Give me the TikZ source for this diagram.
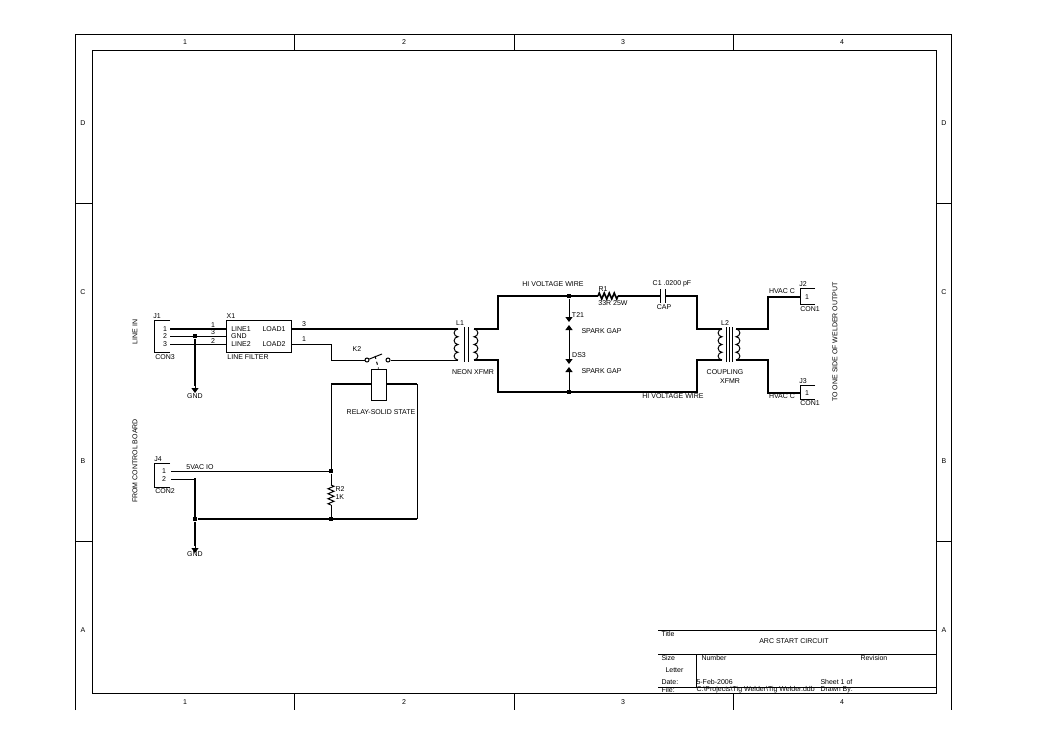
\documentclass[tikz,border=0pt]{standalone}
\usepackage{fontspec}
\setmainfont{Liberation Sans}
\usetikzlibrary{positioning}
\usetikzlibrary{decorations.pathmorphing}
\usetikzlibrary{arrows.meta}
\tikzset{>=stealth}
\tikzset{gaptip/.tip={Triangle[width=7pt,length=5pt]}}

\begin{document}
\begin{tikzpicture}
	[x=1pt,y=-1pt,line width=1pt,
	txt/.style={inner sep=0pt,font=\fontsize{7}{8}\selectfont},
	wire/.style={line width=1pt},
	hv/.style={line width=2.6pt},
	junction/.style={rectangle,fill=black,inner sep=0pt,minimum size=4pt},
	part/.style={draw,fill=white,line width=1pt},
	zig/.style={decorate,decoration={zigzag,segment length=5pt,amplitude=3pt}}]
	\useasboundingbox (0,0) rectangle (1053,745);
	% sheet frame
	\draw (75,710) -- (75,34) -- (951,34) -- (951,710);
	\draw (92,50) rectangle (936,693);
	\foreach \x in {294,514,733} {
		\draw (\x,34) -- (\x,50);
		\draw (\x,693) -- (\x,710);
	}
	\foreach \y in {203,541} {
		\draw (75,\y) -- (92,\y);
		\draw (936,\y) -- (951,\y);
	}
	\foreach \x/\c in {185/1,404/2,623/3,842/4} {
		\node [txt] (top\c) at (\x,42) {\c};
		\node [txt] (bot\c) at (\x,702) {\c};
	}
	\foreach \y/\r in {123/D,292/C,461/B,630/A} {
		\node [txt] (left\r) at (83,\y) {\r};
		\node [txt] (right\r) at (944,\y) {\r};
	}
	% title block
	\draw (658,630) -- (936,630);
	\draw (658,654) -- (936,654);
	\draw (658,687) -- (936,687);
	\draw (696,654) -- (696,687);
	\node [txt,anchor=west] (titlelbl) at (661,634) {Title};
	\node [txt] (titletxt) at (794,641) {ARC START CIRCUIT};
	\node [txt,anchor=west] (sizelbl) at (661,658) {Size};
	\node [txt,anchor=west] (numlbl) at (701,658) {Number};
	\node [txt,anchor=west] (revlbl) at (860,658) {Revision};
	\node [txt,anchor=west] (letter) at (665,670) {Letter};
	\node [txt,anchor=west] (datelbl) at (661,682) {Date:};
	\node [txt,anchor=west] (date) at (696,682) {5-Feb-2006};
	\node [txt,anchor=west] (sheet) at (820,682) {Sheet 1 of};
	\node [txt,anchor=west] (filelbl) at (661,690) {File:};
	\node [txt,anchor=west] (file) at (696,690) {C:\textbackslash Projects\textbackslash Tig Welder\textbackslash Tig Welder.ddb};
	\node [txt,anchor=west] (drawn) at (820,690) {Drawn By:};
	% connectors
	\coordinate (J1a) at (170,329);
	\coordinate (J1b) at (170,336);
	\coordinate (J1c) at (170,344);
	\coordinate (J4a) at (171,471);
	\coordinate (J4b) at (171,479);
	\coordinate (J2a) at (800,297);
	\coordinate (J3a) at (800,393);
	\draw (170,320) -- (154,320) -- (154,352) -- (170,352);
	\draw (170,463) -- (154,463) -- (154,487) -- (170,487);
	\draw (815,288) -- (800,288) -- (800,304) -- (815,304);
	\draw (815,385) -- (800,385) -- (800,399) -- (815,399);
	% line filter
	\node [part,minimum width=65pt,minimum height=32pt,inner sep=0pt] (X1) at (258.5,336) {};
	\coordinate (X1line1) at (226,329);
	\coordinate (X1gnd) at (226,336);
	\coordinate (X1line2) at (226,344);
	\coordinate (X1load1) at (291,329);
	\coordinate (X1load2) at (291,344);
	\draw [hv] (J1a) -- (X1line1);
	\draw [wire] (J1b) -- (X1gnd);
	\draw [wire] (J1c) -- (X1line2);
	\node [junction] (gndjoin) at (195,336) {};
	\coordinate (gnd1) at (195,393);
	\draw [hv] (gndjoin) -- (195,386);
	\draw [wire,-{gaptip}] (195,386) -- (gnd1);
	% transformers
	\coordinate (T1a) at (458,329);
	\coordinate (T1b) at (458,360);
	\coordinate (T1c) at (474,329);
	\coordinate (T1d) at (474,360);
	\coordinate (T2a) at (722,329);
	\coordinate (T2b) at (722,360);
	\coordinate (T2c) at (736,329);
	\coordinate (T2d) at (736,360);
	\foreach \x in {458,722} {
		\draw (\x,329) arc [start angle=270,end angle=90,radius=3.875]
			arc [start angle=270,end angle=90,radius=3.875]
			arc [start angle=270,end angle=90,radius=3.875]
			arc [start angle=270,end angle=90,radius=3.875];
	}
	\foreach \x in {474,736} {
		\draw (\x,329) arc [start angle=-90,end angle=90,radius=3.875]
			arc [start angle=-90,end angle=90,radius=3.875]
			arc [start angle=-90,end angle=90,radius=3.875]
			arc [start angle=-90,end angle=90,radius=3.875];
	}
	\foreach \x in {464,468} {
		\draw (\x,327) -- (\x,362);
	}
	\foreach \x in {726,729,732} {
		\draw (\x,327) -- (\x,362);
	}
	% relay and switch
	\node [part,minimum width=15pt,minimum height=31pt,inner sep=0pt] (K2) at (378.5,384.5) {};
	\node [circle,draw,inner sep=0pt,minimum size=4pt] (K2a) at (367,360) {};
	\node [circle,draw,inner sep=0pt,minimum size=4pt] (K2b) at (388,360) {};
	\coordinate (K2arm) at (382,354);
	\draw [wire] (K2a) -- (K2arm);
	\draw [wire,dashed] (375,356) -- (K2.north);
	\coordinate (relayL) at (331,384);
	\coordinate (relayR) at (417,384);
	\coordinate (retR) at (417,519);
	\node [junction] (ctrl) at (331,471) {};
	\node [junction] (retjoin) at (331,519) {};
	\node [junction] (gndjoin2) at (195,519) {};
	\coordinate (gnd2) at (195,553);
	\draw [hv] (K2.west |- relayL) -- (relayL);
	\draw [hv] (K2.east |- relayR) -- (relayR);
	\draw [wire] (relayL) -- (ctrl);
	\draw [wire] (relayR) -- (retR);
	\draw [wire] (J4a) -- (ctrl);
	\draw [wire] (J4b) -- (195,479);
	\draw [hv] (195,478) -- (gndjoin2);
	\draw [hv] (gndjoin2) -- (195,546);
	\draw [wire,-{gaptip}] (195,546) -- (gnd2);
	\draw [hv] (gndjoin2) -- (retR);
	\draw [wire] (ctrl) -- (331,485);
	\draw [wire,zig] (331,485) -- (331,505);
	\draw [wire] (331,505) -- (retjoin);
	% mains side
	\draw [hv] (X1load1) -- (T1a);
	\draw [wire] (X1load2) -- (331,344) -- (331,360) -- (K2a);
	\draw [wire] (K2b) -- (T1b);
	% high voltage side
	\node [junction] (hvtop) at (569,296) {};
	\node [junction] (hvbot) at (569,392) {};
	\coordinate (R1a) at (598,296);
	\coordinate (R1b) at (618,296);
	\coordinate (C1a) at (660,296);
	\coordinate (C1b) at (665,296);
	\draw [hv] (T1c) -- (498,329) -- (498,296) -- (R1a);
	\draw [wire,line width=1.6pt,zig] (R1a) -- (R1b);
	\draw [hv] (R1b) -- (C1a);
	\draw ([yshift=7pt]C1a) -- ([yshift=-7pt]C1a);
	\draw ([yshift=7pt]C1b) -- ([yshift=-7pt]C1b);
	\draw [hv] (C1b) -- (697,296) -- (697,329) -- (T2a);
	\draw [hv] (T1d) -- (498,360) -- (498,392) -- (697,392) -- (697,360) -- (T2b);
	\draw [hv] (T2c) -- (768,329) -- (768,297) -- (J2a);
	\draw [hv] (T2d) -- (768,360) -- (768,393) -- (J3a);
	% spark gaps
	\draw [wire,-{gaptip}] (hvtop) -- (569,322);
	\draw [wire,{gaptip}-{gaptip}] (569,325) -- (569,364);
	\draw [wire,{gaptip}-] (569,367) -- (hvbot);
	% labels
	\node [txt] (J1lbl) at (157,316) {J1};
	\node [txt] (J1p1) at (165,329) {1};
	\node [txt] (J1p2) at (165,336) {2};
	\node [txt] (J1p3) at (165,344) {3};
	\node [txt] (J1val) at (165,357) {CON3};
	\node [txt,rotate=90] (linein) at (135,332) {LINE IN};
	\node [txt] (X1lbl) at (231,316) {X1};
	\node [txt] (X1val) at (248,357) {LINE FILTER};
	\node [txt] (X1p1) at (241,329) {LINE1};
	\node [txt] (X1p2) at (239,336) {GND};
	\node [txt] (X1p3) at (241,344) {LINE2};
	\node [txt] (X1p4) at (274,329) {LOAD1};
	\node [txt] (X1p5) at (274,344) {LOAD2};
	\node [txt] (n1) at (213,325) {1};
	\node [txt] (n2) at (213,332) {3};
	\node [txt] (n3) at (213,341) {2};
	\node [txt] (n4) at (304,324) {3};
	\node [txt] (n5) at (304,339) {1};
	\node [txt] (gndlbl1) at (195,396) {GND};
	\node [txt] (K2lbl) at (357,349) {K2};
	\node [txt] (K2val) at (381,412) {RELAY-SOLID STATE};
	\node [txt] (J4lbl) at (158,459) {J4};
	\node [txt] (J4p1) at (164,471) {1};
	\node [txt] (J4p2) at (164,479) {2};
	\node [txt] (J4val) at (165,491) {CON2};
	\node [txt] (vac) at (200,467) {5VAC IO};
	\node [txt,rotate=90] (fromctrl) at (135,461) {FROM CONTROL BOARD};
	\node [txt,anchor=west] (R2lbl) at (335,489) {R2};
	\node [txt,anchor=west] (R2val) at (335,497) {1K};
	\node [txt] (gndlbl2) at (195,554) {GND};
	\node [txt] (T1lbl) at (460,323) {L1};
	\node [txt] (T1val) at (473,372) {NEON XFMR};
	\node [txt] (hvtxt1) at (553,284) {HI VOLTAGE WIRE};
	\node [txt] (R1lbl) at (603,289) {R1};
	\node [txt] (R1val) at (613,303) {33R 25W};
	\node [txt] (C1lbl) at (672,284) {C1 .0200 pF};
	\node [txt] (C1val) at (664,307) {CAP};
	\node [txt] (S1lbl) at (578,315) {T21};
	\node [txt,anchor=west] (S1val) at (581,331) {SPARK GAP};
	\node [txt] (S2lbl) at (579,355) {DS3};
	\node [txt,anchor=west] (S2val) at (581,371) {SPARK GAP};
	\node [txt] (hvtxt2) at (673,396) {HI VOLTAGE WIRE};
	\node [txt] (T2lbl) at (725,323) {L2};
	\node [txt] (T2val) at (725,372) {COUPLING};
	\node [txt] (T2val2) at (730,381) {XFMR};
	\node [txt] (J2v) at (782,291) {HVAC C};
	\node [txt] (J3v) at (782,396) {HVAC C};
	\node [txt] (J2lbl) at (803,284) {J2};
	\node [txt] (J2p) at (807,297) {1};
	\node [txt] (J2val) at (810,309) {CON1};
	\node [txt] (J3lbl) at (803,381) {J3};
	\node [txt] (J3p) at (807,393) {1};
	\node [txt] (J3val) at (810,403) {CON1};
	\node [txt,rotate=90] (output) at (835,342) {TO ONE SIDE OF WELDER OUTPUT};
\end{tikzpicture}
\end{document}
